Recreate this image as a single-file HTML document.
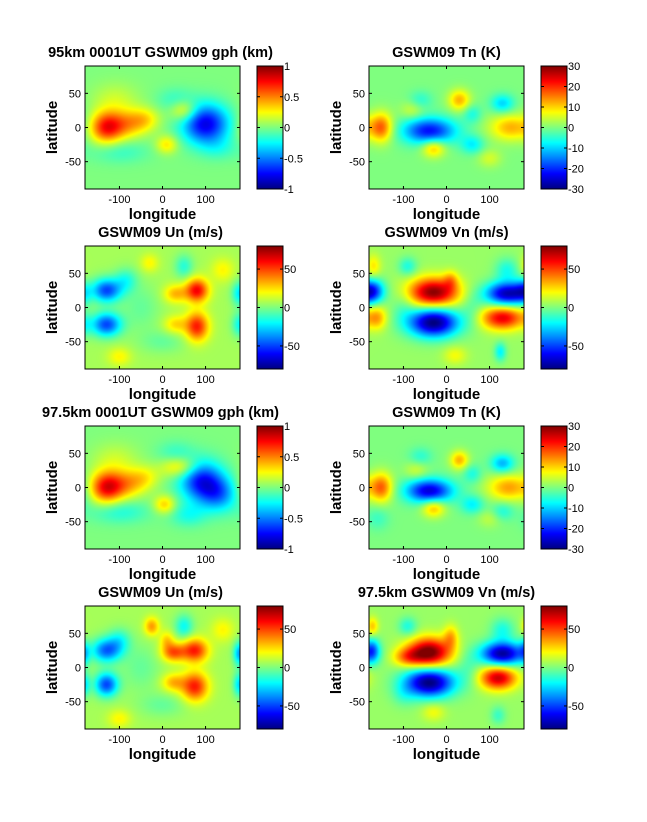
<!DOCTYPE html>
<html><head><meta charset="utf-8"><style>
body{margin:0;background:#fff;width:647px;height:822px;position:relative;overflow:hidden;font-family:"Liberation Sans",Arial,sans-serif}
canvas{position:absolute}
svg{position:absolute;left:0;top:0}
</style></head><body>
<div id="root"></div>
<svg id="ov" width="647" height="822"></svg>
<script>
// ---- data: each field as sum of gaussian features (lon, lat, amplitude, lon-width, lat-width) ----
const titles=["95km 0001UT GSWM09 gph (km)","GSWM09 Tn (K)","GSWM09 Un (m/s)","GSWM09 Vn (m/s)","97.5km 0001UT GSWM09 gph (km)","GSWM09 Tn (K)","GSWM09 Un (m/s)","97.5km GSWM09 Vn (m/s)"];
const cRange=[1,30,80,80,1,30,80,80];
const background=[0,0,6,4,0,0,6,4];
const cbTicks1=[1,0.5,0,-0.5,-1];
const cbTicks2=[30,20,10,0,-10,-20,-30];
const cbTicks3=[50,0,-50];
const xTicks=[-100,0,100];
const yTicks=[50,0,-50];
const f1=[[-130,0,0.7,20,12],[-80,5,0.35,22,11],[-40,12,0.25,18,9],[50,25,0.35,16,8],[10,-25,0.3,13,7],[100,5,-0.8,28,15],[-110,40,0.15,28,13],[30,40,-0.15,22,9],[-100,-35,-0.15,35,9],[130,-30,-0.12,22,9]];
const f2=[[-150,0,15,13,11],[-40,-5,-22,32,10],[30,40,12,13,8],[-30,-30,12,14,7],[130,35,-10,14,7],[150,0,12,26,10],[60,-25,-8,14,7],[100,-45,5,14,7],[-80,25,5,14,7],[-60,40,-5,14,7],[60,20,-6,11,7]];
const f3=[[-130,25,-55,18,9],[-130,-25,-55,18,9],[-85,40,-20,14,9],[80,25,55,14,9],[80,-28,50,14,11],[30,20,25,14,7],[30,-25,20,14,7],[50,60,-20,11,9],[-30,65,15,11,7],[-100,-72,15,14,7],[0,-50,-10,28,9],[178,20,-25,9,9],[178,-25,-20,9,9],[140,55,15,14,9],[-50,0,-10,23,18]];
const f4=[[-30,22,75,30,11],[-30,-22,-85,30,11],[140,20,-75,26,9],[130,-15,60,26,9],[-172,25,-45,14,9],[-160,-15,25,11,9],[-170,60,20,9,9],[-90,60,-20,11,7],[140,55,-20,14,9],[125,-65,-25,7,7],[20,-70,15,14,7],[-100,0,-10,14,14],[60,0,-10,14,14],[10,40,20,9,7]];
const f5=[[-130,0,0.75,20,12],[-80,5,0.35,22,11],[-40,15,0.2,18,9],[40,30,0.35,22,8],[5,-25,0.35,13,7],[90,10,-0.7,26,15],[130,-10,-0.45,23,13],[-110,40,0.15,28,13],[30,50,-0.15,22,9],[-100,-35,-0.2,35,9],[60,-40,-0.2,22,9]];
const f6=[[-150,0,15,13,11],[-40,-5,-25,28,9],[30,40,12,11,7],[-30,-30,12,14,7],[130,35,-12,14,7],[145,0,13,26,10],[60,-25,-8,14,7],[130,-35,-6,14,7],[60,20,-6,11,7],[100,-45,4,14,7],[-70,25,5,14,7],[-60,45,-5,14,7],[-160,-45,-4,14,9]];
const f7=[[-130,25,-50,18,9],[-130,-25,-55,14,9],[-100,40,-20,14,9],[75,25,50,16,9],[75,-28,50,16,11],[25,22,40,14,7],[25,-22,25,14,7],[-25,60,30,9,7],[10,40,20,9,7],[50,60,-25,11,9],[-100,-75,15,14,7],[178,20,-35,7,9],[178,-25,-30,7,9],[140,55,15,14,9],[0,-55,-10,28,9],[-50,0,-10,23,18]];
const f8=[[-40,22,80,26,11],[-90,15,30,18,7],[-40,-22,-85,30,11],[130,20,-80,26,9],[120,-15,65,22,9],[-172,25,-40,9,9],[-172,60,25,7,7],[-90,60,-20,11,7],[130,55,-20,14,9],[10,45,25,9,9],[120,-70,-15,9,7],[-30,-65,15,14,7],[-100,-40,-10,14,9],[50,0,-10,14,14]];
const fields=[f1,f2,f3,f4,f5,f6,f7,f8];
const cbTickSets=[cbTicks1,cbTicks2,cbTicks3,cbTicks3,cbTicks1,cbTicks2,cbTicks3,cbTicks3];

function jet(t){t=Math.max(0,Math.min(1,t));
 const r=Math.max(0,Math.min(1,1.5-Math.abs(4*t-3))),g=Math.max(0,Math.min(1,1.5-Math.abs(4*t-2))),b=Math.max(0,Math.min(1,1.5-Math.abs(4*t-1)));
 return [r*255|0,g*255|0,b*255|0];}
const PW=155,PH=123,WS=1.35;
const colX=[85,369],rowY=[66,246,426,606];
const root=document.getElementById('root'),ov=document.getElementById('ov');
const NS="http://www.w3.org/2000/svg";
function sv(tag,attrs,txt){const e=document.createElementNS(NS,tag);for(const k in attrs)e.setAttribute(k,attrs[k]);if(txt!==undefined)e.textContent=txt;ov.appendChild(e);return e;}
fields.forEach((F,i)=>{
 const px=colX[i%2],py=rowY[i>>1],R=cRange[i];
 const xs=lon=>px+(lon+180)/360*PW, ys=lat=>py+(90-lat)/180*PH;
 const c=document.createElement('canvas');c.width=PW;c.height=PH;c.style.left=px+'px';c.style.top=py+'px';
 
 
 root.appendChild(c);const ctx=c.getContext('2d'),im=ctx.createImageData(PW,PH);
 for(let y=0;y<PH;y++)for(let x=0;x<PW;x++){
  const lon=-180+(x+0.5)/PW*360,lat=90-(y+0.5)/PH*180;let v=background[i];
  F.forEach(b=>{let d=lon-b[0];if(d>180)d-=360;if(d<-180)d+=360;const q=(d/(b[3]*WS))**2+((lat-b[1])/(b[4]*WS))**2;v+=b[2]*Math.exp(-q/2);});
  const col=jet((v+R)/(2*R)),k=(y*PW+x)*4;im.data[k]=col[0];im.data[k+1]=col[1];im.data[k+2]=col[2];im.data[k+3]=255;}
 ctx.putImageData(im,0,0);
 sv('rect',{x:px,y:py,width:PW,height:PH,fill:'none',stroke:'#000','stroke-width':1,});
 xTicks.forEach(t=>{sv('line',{x1:xs(t),x2:xs(t),y1:py+PH,y2:py+PH-3,stroke:'#000'});sv('line',{x1:xs(t),x2:xs(t),y1:py,y2:py+3,stroke:'#000'});
  sv('text',{x:xs(t),y:py+PH+14,'font-size':11,'text-anchor':'middle',},t);});
 yTicks.forEach(t=>{sv('line',{x1:px,x2:px+3,y1:ys(t),y2:ys(t),stroke:'#000'});sv('line',{x1:px+PW,x2:px+PW-3,y1:ys(t),y2:ys(t),stroke:'#000'});
  sv('text',{x:px-4,y:ys(t)+4,'font-size':11,'text-anchor':'end',},t);});
 sv('text',{x:px+PW/2,y:py+PH+30,'font-size':15,'font-weight':'bold','text-anchor':'middle',},'longitude');
 sv('text',{x:0,y:0,'font-size':15,'font-weight':'bold','text-anchor':'middle',transform:`translate(${px-28},${py+PH/2}) rotate(-90)`,},'latitude');
 sv('text',{x:px+PW/2+(i%2?0:-2),y:py-9,'font-size':14.5,'font-weight':'bold','text-anchor':'middle',},titles[i]);
 const cx=px+172,cw=26;
 const cb=document.createElement('canvas');cb.width=cw;cb.height=PH;cb.style.left=cx+'px';cb.style.top=py+'px';
 
 
 root.appendChild(cb);const g=cb.getContext('2d');
 for(let y=0;y<PH;y++){const col=jet(1-(y+0.5)/PH);g.fillStyle=`rgb(${col})`;g.fillRect(0,y,cw,1);}
 sv('rect',{x:cx,y:py,width:cw,height:PH,fill:'none',stroke:'#000',});
 cbTickSets[i].forEach(t=>{const yy=py+(R-t)/(2*R)*PH;
  sv('line',{x1:cx+cw,x2:cx+cw-3,y1:yy,y2:yy,stroke:'#000'});sv('line',{x1:cx,x2:cx+3,y1:yy,y2:yy,stroke:'#000'});
  sv('text',{x:cx+cw+1,y:yy+4,'font-size':11,},t);});
});
</script>
</body></html>
